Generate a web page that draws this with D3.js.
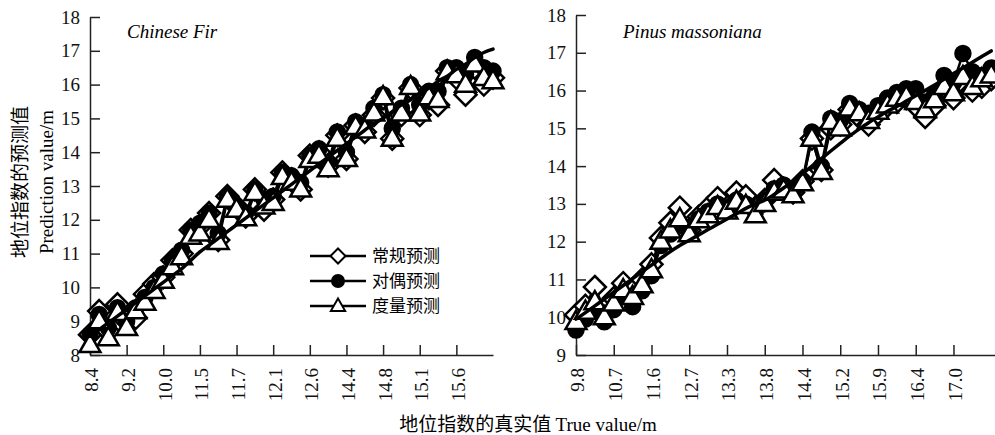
<!DOCTYPE html>
<html>
<head>
<meta charset="utf-8">
<script src="https://cdn.jsdelivr.net/npm/d3@7"></script>
<style>
  body { margin: 0; background: #fff; }
  svg { display: block; }
  .axis path, .axis line { stroke: #222; stroke-width: 1.5; }
  .axis text { font-family: 'Liberation Serif', 'Times New Roman', serif; font-size: 19px; fill: #111; }
</style>
</head>
<body>
<svg id="chart" width="995" height="435"></svg>
<script>
// series names (legend)
const seriesNames = ['常规预测', '对偶预测', '度量预测'];

// Chinese Fir panel
const firTicks = ['8.4', '9.2', '10.0', '11.5', '11.7', '12.1', '12.6', '14.4', '14.8', '15.1', '15.6'];
const firConventional = [8.6, 9.3, 8.7, 9.5, 9.0, 9.1, 9.8, 10.1, 10.3, 10.8, 11.0, 11.7, 11.8, 12.2, 11.4, 12.7, 12.4, 12.1, 12.9, 12.3, 12.6, 13.4, 13.2, 12.9, 13.9, 14.0, 13.6, 14.5, 13.8, 14.8, 14.6, 15.1, 15.6, 14.4, 15.1, 15.9, 15.1, 15.6, 15.4, 16.4, 16.2, 15.7, 16.5, 16.0, 16.2];
const firDual = [8.6, 9.2, 8.8, 9.4, 9.0, 9.4, 9.7, 10.0, 10.4, 10.8, 11.1, 11.7, 11.9, 12.2, 11.6, 12.7, 12.4, 12.2, 12.9, 12.6, 12.7, 13.4, 13.3, 13.1, 13.9, 14.1, 13.7, 14.6, 14.0, 14.9, 14.8, 15.3, 15.7, 14.7, 15.3, 16.0, 15.4, 15.8, 15.8, 16.5, 16.5, 16.3, 16.8, 16.5, 16.4];
const firMetric = [8.3, 9.0, 8.5, 9.25, 8.8, 9.3, 9.55, 9.9, 10.2, 10.6, 10.9, 11.5, 11.6, 12.0, 11.35, 12.6, 12.3, 12.05, 12.8, 12.4, 12.5, 13.27, 13.1, 12.9, 13.77, 13.9, 13.5, 14.4, 13.8, 14.75, 14.65, 15.15, 15.63, 14.4, 15.15, 15.93, 15.15, 15.63, 15.55, 16.37, 16.28, 16.0, 16.6, 16.2, 16.1];
const firTrend = [8.55, 8.75, 8.95, 9.15, 9.35, 9.55, 9.75, 9.95, 10.15, 10.35, 10.55, 10.8, 11.05, 11.25, 11.45, 11.65, 11.85, 12.05, 12.25, 12.45, 12.65, 12.85, 13.05, 13.25, 13.45, 13.65, 13.85, 14.05, 14.25, 14.45, 14.65, 14.85, 15.0, 15.2, 15.4, 15.55, 15.75, 15.9, 16.1, 16.25, 16.45, 16.6, 16.8, 16.95, 17.05];

// Pinus massoniana panel
const pineTicks = ['9.8', '10.7', '11.6', '12.7', '13.3', '13.8', '14.4', '15.2', '15.9', '16.4', '17.0'];
const pineConventional = [10.06, 10.3, 10.8, 10.2, 10.5, 10.9, 10.7, 11.0, 11.4, 12.1, 12.5, 12.9, 12.3, 12.66, 12.9, 13.15, 12.9, 13.3, 13.2, 12.9, 13.1, 13.63, 13.4, 13.3, 13.6, 14.73, 13.9, 15.0, 15.1, 15.5, 15.3, 15.1, 15.4, 15.6, 15.7, 15.8, 15.6, 15.3, 15.6, 16.0, 15.8, 16.2, 16.0, 16.1, 16.3];
const pineDual = [9.66, 9.95, 10.2, 9.88, 10.2, 10.55, 10.28, 10.7, 11.1, 11.9, 12.2, 12.5, 12.3, 12.6, 12.8, 13.0, 12.9, 13.1, 13.0, 12.8, 13.1, 13.4, 13.5, 13.3, 13.6, 14.9, 14.0, 15.26, 15.2, 15.66, 15.5, 15.4, 15.6, 15.8, 15.95, 16.05, 16.05, 15.7, 15.9, 16.4, 16.2, 16.98, 16.5, 16.4, 16.6];
const pineMetric = [9.88, 10.15, 10.4, 10.0, 10.37, 10.72, 10.54, 10.85, 11.25, 12.0, 12.3, 12.6, 12.2, 12.57, 12.7, 12.92, 12.8, 13.06, 12.95, 12.7, 13.0, 13.3, 13.36, 13.23, 13.55, 14.73, 13.85, 15.17, 15.0, 15.53, 15.4, 15.2, 15.44, 15.61, 15.79, 15.83, 15.7, 15.48, 15.75, 16.1, 15.93, 16.36, 16.1, 16.3, 16.4];
const pineTrend = [9.95, 10.12, 10.3, 10.48, 10.66, 10.84, 11.02, 11.2, 11.38, 11.56, 11.74, 11.9, 12.04, 12.18, 12.32, 12.46, 12.6, 12.74, 12.88, 13.0, 13.1, 13.25, 13.42, 13.6, 13.8, 14.0, 14.2, 14.4, 14.6, 14.8, 14.98, 15.15, 15.3, 15.45, 15.58, 15.72, 15.86, 16.0, 16.15, 16.3, 16.45, 16.6, 16.75, 16.9, 17.05];

const svg = d3.select('#chart');
const serif = "'Liberation Serif', 'Times New Roman', serif";
const cjk = "'Noto Sans CJK SC', sans-serif";

// marker shapes
const markers = {
  diamond: r => `M0,${-r}L${r},0L0,${r}L${-r},0Z`,
  triangle: r => `M0,${-r}L${r * 0.95},${r * 0.65}L${-r * 0.95},${r * 0.65}Z`,
  circle: r => d3.symbol(d3.symbolCircle, Math.PI * r * r)()
};
const styles = [
  { shape: 'diamond', r: 11, fill: '#fff' },
  { shape: 'circle', r: 7.5, fill: '#000' },
  { shape: 'triangle', r: 11, fill: '#fff' }
];

function drawPanel(opt) {
  const x = d3.scaleLinear().domain([0, opt.xMax]).range(opt.xRange);
  const y = d3.scaleLinear().domain(opt.yDomain).range([355, opt.yTop]);
  const g = svg.append('g');

  // Y axis, ticks inside
  g.append('g')
    .attr('class', 'axis')
    .attr('transform', `translate(${opt.xRange[0]},0)`)
    .call(d3.axisLeft(y).ticks(opt.yDomain[1] - opt.yDomain[0]).tickSize(-10).tickSizeOuter(0).tickPadding(10));

  // X axis, labels rotated
  g.append('g')
    .attr('class', 'axis')
    .attr('transform', 'translate(0,355)')
    .call(d3.axisBottom(x)
      .tickValues(opt.ticks.map((t, i) => i * 4))
      .tickFormat(d => opt.ticks[d / 4])
      .tickSize(-10).tickSizeOuter(0))
    .selectAll('text')
    .attr('transform', 'translate(0,13) rotate(-90)')
    .attr('x', 0).attr('y', 0)
    .attr('dy', '0.42em')
    .style('text-anchor', 'end');

  const line = d3.line().x((d, i) => x(i)).y(d => y(d));

  opt.series.forEach((vals, k) => {
    const st = styles[k];
    g.append('path')
      .datum(vals)
      .attr('d', line)
      .attr('fill', 'none')
      .attr('stroke', '#000')
      .attr('stroke-width', 2.5)
      .attr('stroke-linejoin', 'round');
    g.selectAll(null)
      .data(vals)
      .join('path')
      .attr('transform', (d, i) => `translate(${x(i)},${y(d)})`)
      .attr('d', markers[st.shape](st.r))
      .attr('fill', st.fill)
      .attr('stroke', '#000')
      .attr('stroke-width', 2.5)
      .attr('stroke-linejoin', 'miter');
  });

  // thick reference line
  g.append('path')
    .datum(opt.trend)
    .attr('d', d3.line().x((d, i) => x(i)).y(d => y(d)).curve(d3.curveMonotoneX))
    .attr('fill', 'none')
    .attr('stroke', '#000')
    .attr('stroke-width', 3.5)
    .attr('stroke-linecap', 'round');

  g.append('text')
    .attr('x', opt.titleX).attr('y', 38)
    .attr('font-family', serif)
    .attr('font-style', 'italic')
    .attr('font-size', 19)
    .text(opt.title);
}

drawPanel({
  title: 'Chinese Fir', titleX: 127,
  xRange: [90, 493], xMax: 44, yDomain: [8, 18], yTop: 17,
  ticks: firTicks, series: [firConventional, firDual, firMetric], trend: firTrend
});
drawPanel({
  title: 'Pinus massoniana', titleX: 623,
  xRange: [576, 995], xMax: 44.4, yDomain: [9, 18], yTop: 15,
  ticks: pineTicks, series: [pineConventional, pineDual, pineMetric], trend: pineTrend
});

// legend
const legend = svg.append('g').attr('transform', 'translate(310,256)');
seriesNames.forEach((name, k) => {
  const st = styles[k];
  const row = legend.append('g').attr('transform', `translate(0,${k * 25})`);
  row.append('line').attr('x1', 0).attr('x2', 56).attr('stroke', '#000').attr('stroke-width', 2.5);
  row.append('path')
    .attr('transform', 'translate(28,0)')
    .attr('d', markers[st.shape](st.shape === 'circle' ? 6 : 7.5))
    .attr('fill', st.fill).attr('stroke', '#000').attr('stroke-width', 2);
  row.append('text')
    .attr('x', 62).attr('y', 6)
    .attr('font-family', cjk)
    .attr('font-size', 17)
    .text(name);
});

// axis titles
const yTitle = svg.append('text')
  .attr('transform', 'translate(0,182) rotate(-90)')
  .attr('text-anchor', 'middle');
yTitle.append('tspan').attr('x', 0).attr('y', 27).attr('font-family', cjk).attr('font-size', 19).text('地位指数的预测值');
yTitle.append('tspan').attr('x', 0).attr('y', 53).attr('font-family', serif).attr('font-size', 19).text('Prediction value/m');

const xTitle = svg.append('text')
  .attr('x', 528).attr('y', 431)
  .attr('text-anchor', 'middle');
xTitle.append('tspan').attr('font-family', cjk).attr('font-size', 19).text('地位指数的真实值 ');
xTitle.append('tspan').attr('font-family', serif).attr('font-size', 19).text('True value/m');
</script>
</body>
</html>
